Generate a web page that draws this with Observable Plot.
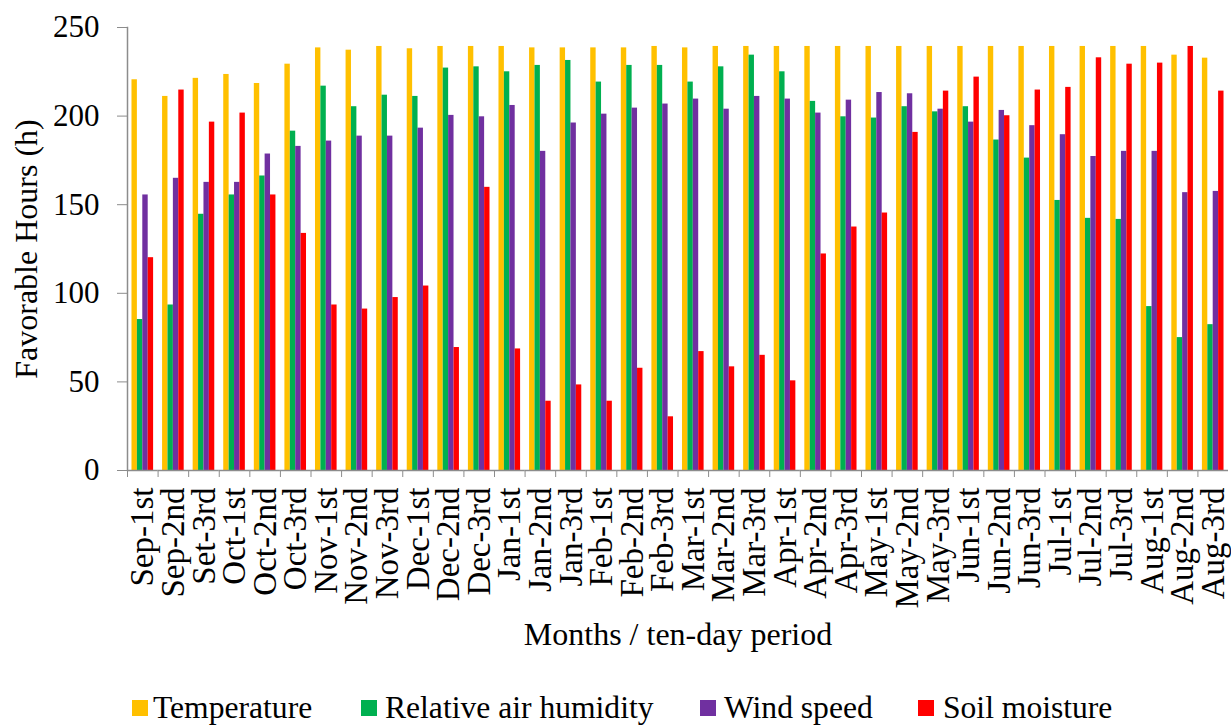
<!DOCTYPE html>
<html>
<head>
<meta charset="utf-8">
<script src="https://cdn.jsdelivr.net/npm/d3@7"></script>
<script src="https://cdn.jsdelivr.net/npm/@observablehq/plot@0.6"></script>
<style>
  html, body { margin: 0; padding: 0; background: #fff; }
  body { width: 1231px; height: 725px; overflow: hidden; position: relative;
         font-family: "Times New Roman", "Liberation Serif", Times, "DejaVu Serif", serif; color: #000; }
  #chart { position: absolute; left: 0; top: 0; }
  .lg { position: absolute; top: 692px; font-size: 31.6px; line-height: 31px; white-space: nowrap; }
  .sw { position: absolute; top: 700px; width: 16px; height: 16px; }
</style>
</head>
<body>
<div id="chart"></div>
<div id="legend"></div>
<script>
// ---- data ----
const periods = ["Sep-1st","Sep-2nd","Set-3rd","Oct-1st","Oct-2nd","Oct-3rd",
  "Nov-1st","Nov-2nd","Nov-3rd","Dec-1st","Dec-2nd","Dec-3rd",
  "Jan-1st","Jan-2nd","Jan-3rd","Feb-1st","Feb-2nd","Feb-3rd",
  "Mar-1st","Mar-2nd","Mar-3rd","Apr-1st","Apr-2nd","Apr-3rd",
  "May-1st","May-2nd","May-3rd","Jun-1st","Jun-2nd","Jun-3rd",
  "Jul-1st","Jul-2nd","Jul-3rd","Aug-1st","Aug-2nd","Aug-3rd"];
const seriesNames = ["Temperature", "Relative air humidity", "Wind speed", "Soil moisture"];
const seriesColors = ["#FFC000", "#00B050", "#7030A0", "#FF0000"];
const temperature = [220.5,211.1,221.3,223.5,218.4,229.3,238.5,237.2,239.3,238.0,239.3,239.3,
  239.3,238.5,238.5,238.5,238.5,239.3,238.5,239.3,239.3,239.3,239.3,239.3,
  239.3,239.3,239.3,239.3,239.3,239.3,239.3,239.3,239.3,239.3,234.4,232.7];
const humidity = [85.2,93.4,144.6,155.5,166.2,191.5,216.9,205.3,211.8,211.1,227.1,227.8,
  225.0,228.6,231.4,219.2,228.6,228.6,219.2,227.8,234.4,225.0,208.3,199.6,
  198.9,205.3,202.4,205.3,186.5,176.3,152.4,142.3,141.7,92.5,75.0,82.3];
const wind = [155.5,164.9,162.6,162.6,178.6,182.9,185.9,188.7,188.7,193.2,200.4,199.6,
  206.0,180.1,196.1,201.1,204.5,206.8,209.6,203.9,211.1,209.6,201.7,209.0,
  213.3,212.6,203.9,196.6,203.2,194.6,189.5,177.2,180.1,180.1,156.8,157.5];
const soil = [120.1,214.7,196.6,201.7,155.5,133.8,93.4,91.1,97.6,104.1,69.4,159.8,
  68.6,39.1,48.3,39.1,57.7,30.3,67.1,58.5,65.0,50.6,122.2,137.4,
  145.3,190.8,214.1,222.0,200.2,214.7,216.2,232.9,229.3,229.9,239.3,214.1];
const yTicks = [0, 50, 100, 150, 200, 250];
const xTitle = "Months / ten-day period";
const yTitle = "Favorable Hours (h)";

// ---- table for Plot ----
const seriesValues = [temperature, humidity, wind, soil];
const rows = periods.flatMap((p, i) =>
  seriesNames.map((s, k) => ({period: p, series: s, value: seriesValues[k][i]})));

const W = 1231, H = 690, mL = 127, mR = 3;
const step = (W - mL - mR) / periods.length;
const font = "Times New Roman, Liberation Serif, Times, DejaVu Serif, serif";
const axisGray = "#8c8c8c";

const chart = Plot.plot({
  width: W, height: H,
  marginTop: 27, marginBottom: 220, marginLeft: mL, marginRight: mR,
  style: {fontFamily: font, color: "#000", background: "#fff", overflow: "visible"},
  fx: {domain: periods, padding: 0, round: false},
  x: {domain: seriesNames, paddingInner: 0, paddingOuter: 0.83, round: false, axis: null},
  y: {domain: [0, 250]},
  color: {domain: seriesNames, range: seriesColors},
  marks: [
    Plot.barY(rows, {fx: "period", x: "series", y: "value", fill: "series"}),
    Plot.ruleY([0], {stroke: axisGray, strokeWidth: 1.5}),
    Plot.frame({anchor: "left", facetAnchor: "left", stroke: axisGray, strokeWidth: 1.5}),
    Plot.axisY({ticks: yTicks, tickSize: 10, tickPadding: 18, fontSize: 31, stroke: axisGray, label: null}),
    Plot.axisY({ticks: [], tickSize: 0, fontSize: 32,
      label: yTitle, labelArrow: "none", labelAnchor: "center", labelOffset: 113}),
    Plot.axisFx({anchor: "bottom", tickSize: 7, text: null, dx: -step / 2, label: null, stroke: axisGray}),
    Plot.axisFx({anchor: "bottom", tickSize: 0, tickPadding: 17, tickRotate: -90, fontSize: 33, label: null}),
    Plot.axisFx({anchor: "bottom", ticks: [], tickSize: 0, fontSize: 32,
      label: xTitle, labelArrow: "none", labelAnchor: "center", labelOffset: 174})
  ]
});
document.getElementById("chart").appendChild(chart);

// ---- legend ----
const legendPos = [[132, 153], [361, 385], [700, 724], [918, 943]];
const lg = document.getElementById("legend");
seriesNames.forEach((s, k) => {
  const sw = document.createElement("div");
  sw.className = "sw";
  sw.style.left = legendPos[k][0] + "px";
  sw.style.background = seriesColors[k];
  lg.appendChild(sw);
  const t = document.createElement("div");
  t.className = "lg";
  t.style.left = legendPos[k][1] + "px";
  t.textContent = s;
  lg.appendChild(t);
});
</script>
</body>
</html>
